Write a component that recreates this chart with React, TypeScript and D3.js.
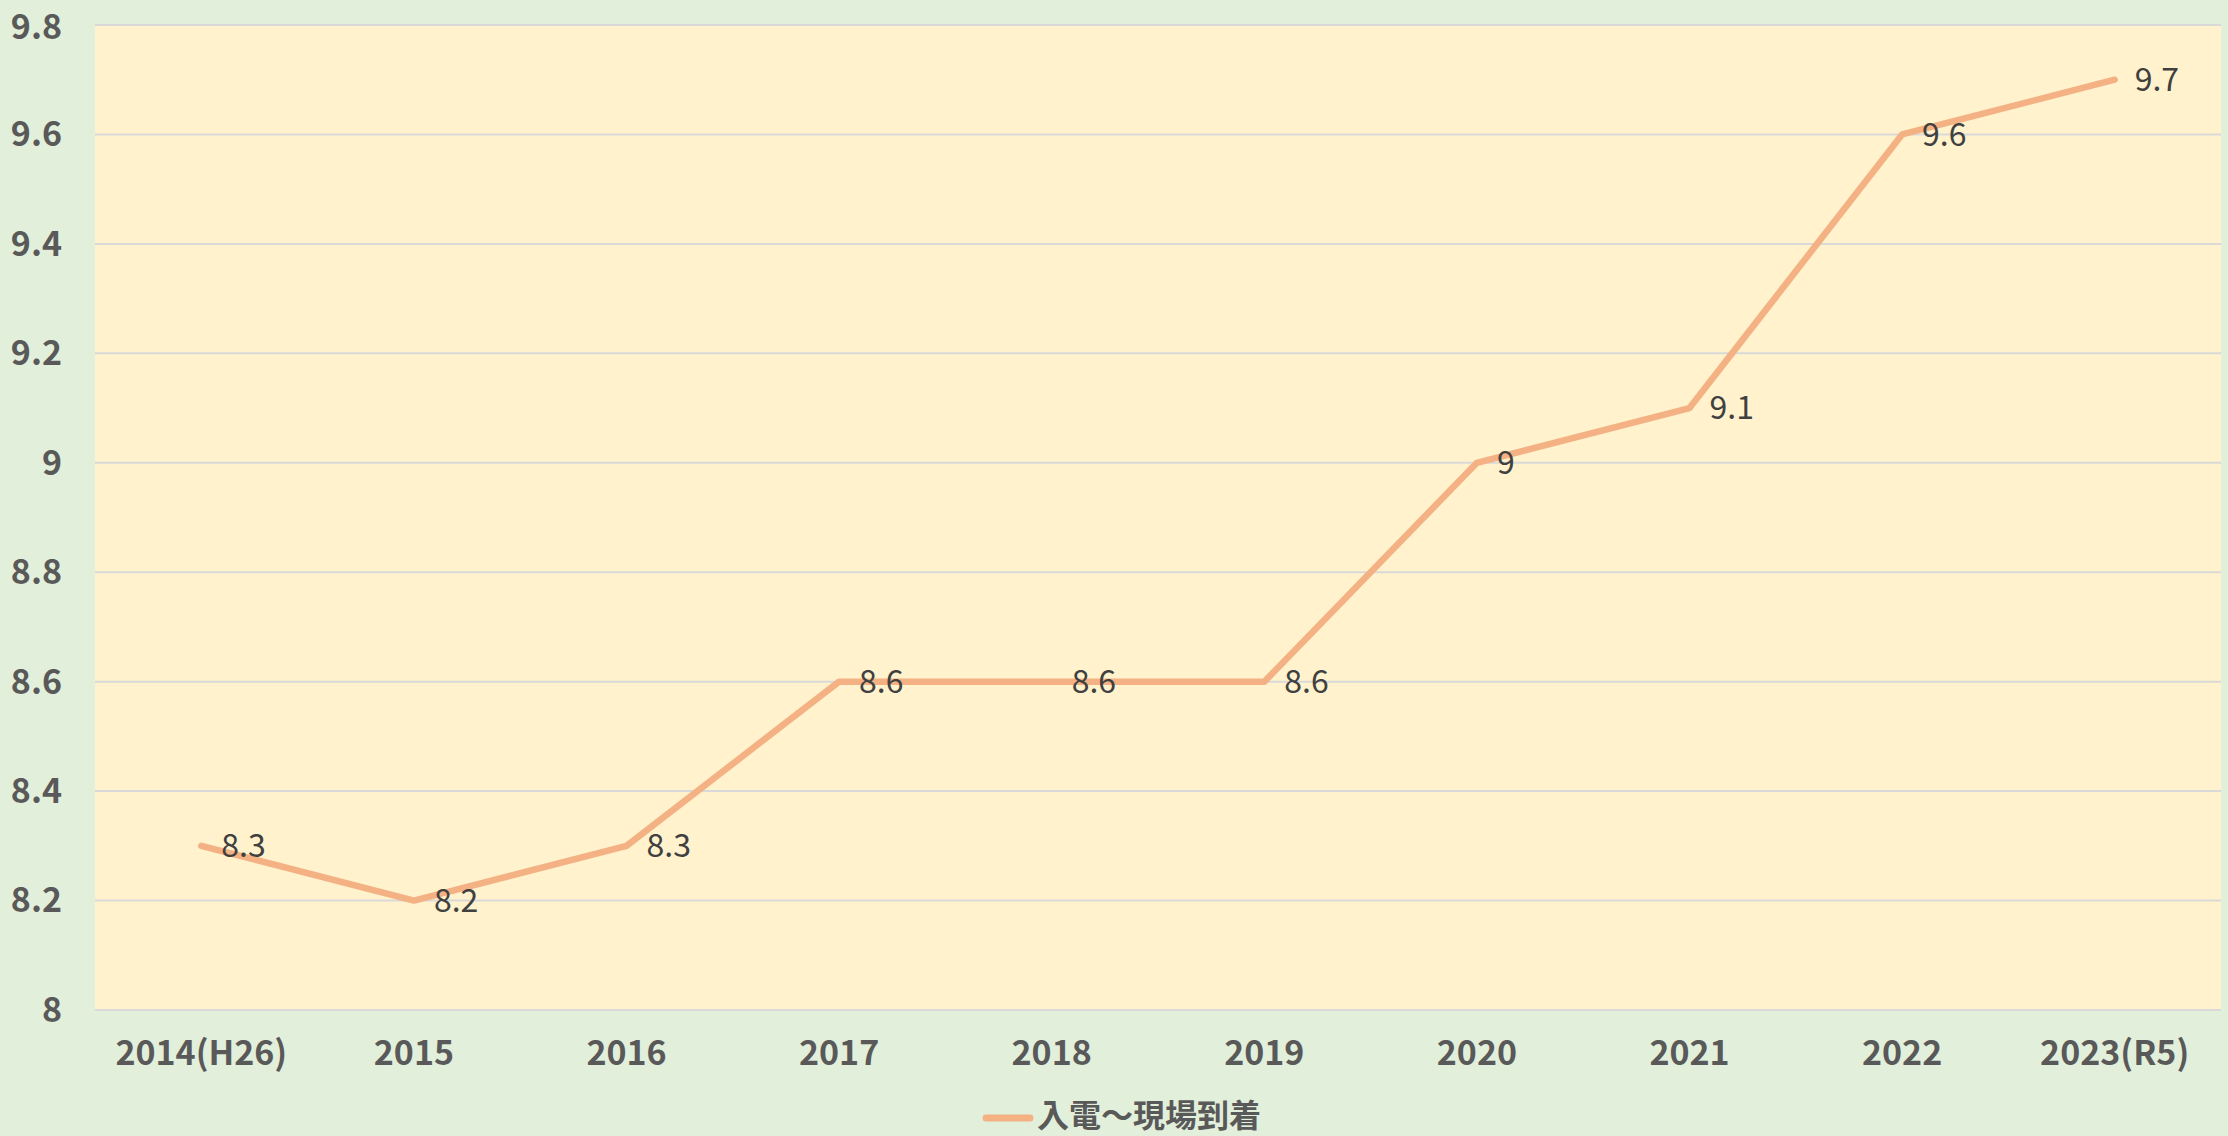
import React, { useRef, useEffect } from 'react';
import * as d3 from 'd3';

const categories = ['2014(H26)', '2015', '2016', '2017', '2018', '2019', '2020', '2021', '2022', '2023(R5)'];
const values = [8.3, 8.2, 8.3, 8.6, 8.6, 8.6, 9.0, 9.1, 9.6, 9.7];
const yTicks = [8, 8.2, 8.4, 8.6, 8.8, 9, 9.2, 9.4, 9.6, 9.8];
const seriesName = '入電～現場到着';

const width = 2228;
const height = 1136;
const font = '"Noto Sans CJK JP", "Noto Sans", sans-serif';

const App: React.FC = () => {
  const svgRef = useRef<SVGSVGElement>(null);

  useEffect(() => {
    const svg = d3.select(svgRef.current);
    svg.selectAll('*').remove();

    const left = 95;
    const right = 2221;
    const top = 25;
    const bottom = 1010;

    svg.append('rect').attr('width', width).attr('height', height).attr('fill', '#E2EFDA');
    svg.append('rect')
      .attr('x', left).attr('y', top)
      .attr('width', right - left).attr('height', bottom - top)
      .attr('fill', '#FFF2CC');

    const x = d3.scaleBand().domain(categories).range([left, right]);
    const y = d3.scaleLinear().domain([8, 9.8]).range([bottom, top]);

    // gridlines
    svg.append('g')
      .selectAll('line')
      .data(yTicks)
      .enter()
      .append('line')
      .attr('x1', left).attr('x2', right)
      .attr('y1', d => y(d)).attr('y2', d => y(d))
      .attr('stroke', '#D9D9D9')
      .attr('stroke-width', 2);

    // y labels
    svg.append('g')
      .selectAll('text')
      .data(yTicks)
      .enter()
      .append('text')
      .attr('x', 62)
      .attr('y', d => Math.max(y(d), 27))
      .attr('dy', '0.35em')
      .attr('text-anchor', 'end')
      .attr('font-family', font)
      .attr('font-weight', 'bold')
      .attr('font-size', 34)
      .attr('fill', '#595959')
      .text(d => String(d));

    // x labels
    svg.append('g')
      .selectAll('text')
      .data(categories)
      .enter()
      .append('text')
      .attr('x', d => (x(d) as number) + x.bandwidth() / 2)
      .attr('y', 1053)
      .attr('dy', '0.35em')
      .attr('text-anchor', 'middle')
      .attr('font-family', font)
      .attr('font-weight', 'bold')
      .attr('font-size', 34)
      .attr('fill', '#595959')
      .text(d => d);

    const cx = (i: number) => (x(categories[i]) as number) + x.bandwidth() / 2;

    const line = d3.line<number>()
      .x((_, i) => cx(i))
      .y(d => y(d));

    svg.append('path')
      .datum(values)
      .attr('d', line)
      .attr('fill', 'none')
      .attr('stroke', '#F4B183')
      .attr('stroke-width', 6.5)
      .attr('stroke-linecap', 'round')
      .attr('stroke-linejoin', 'round');

    // data labels
    svg.append('g')
      .selectAll('text')
      .data(values)
      .enter()
      .append('text')
      .attr('x', (_, i) => cx(i) + 20)
      .attr('y', d => y(d))
      .attr('dy', '0.35em')
      .attr('font-family', font)
      .attr('font-size', 32)
      .attr('fill', '#404040')
      .text(d => String(d));

    // legend
    const lg = svg.append('g');
    lg.append('line')
      .attr('x1', 986).attr('x2', 1030)
      .attr('y1', 1118).attr('y2', 1118)
      .attr('stroke', '#F4B183')
      .attr('stroke-width', 7)
      .attr('stroke-linecap', 'round');
    lg.append('text')
      .attr('x', 1037)
      .attr('y', 1127)
      .attr('font-family', font)
      .attr('font-weight', 'bold')
      .attr('font-size', 32)
      .attr('fill', '#595959')
      .text(seriesName);
  }, []);

  return (
    <svg
      ref={svgRef}
      width={width}
      height={height}
      style={{ position: 'absolute', left: 0, top: 0, display: 'block' }}
    />
  );
};

export default App;
